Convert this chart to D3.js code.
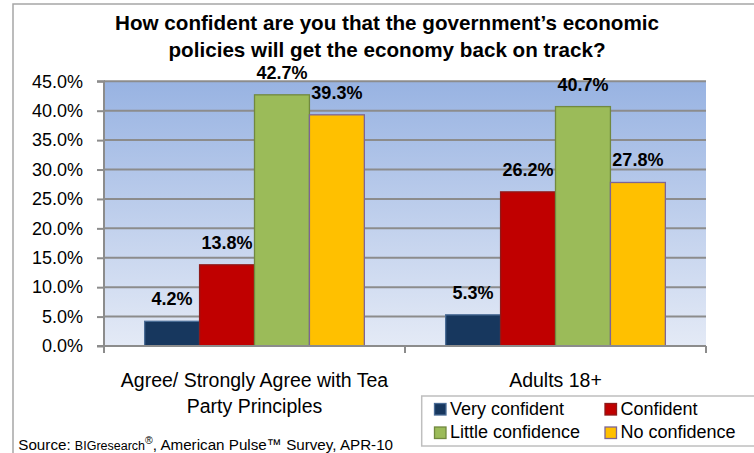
<!DOCTYPE html>
<html><head><meta charset="utf-8">
<script src="https://cdn.jsdelivr.net/npm/d3@7"></script>
<style>
html,body{margin:0;padding:0;background:#fff;}
svg{display:block;font-family:"Liberation Sans",Arial,sans-serif;}
</style></head>
<body><svg id="c" width="754" height="453"></svg>
<script>
const titleLines = ["How confident are you that the government\u2019s economic", "policies will get the economy back on track?"];
const categories = ["Agree/ Strongly Agree with Tea Party Principles", "Adults 18+"];
const seriesNames = ["Very confident", "Confident", "Little confidence", "No confidence"];
const veryConfident = [4.2, 5.3];
const confident = [13.8, 26.2];
const littleConfidence = [42.7, 40.7];
const noConfidence = [39.3, 27.8];
const yTicks = [0, 5, 10, 15, 20, 25, 30, 35, 40, 45];
const colors = ["#17375e", "#c00000", "#9bbb59", "#ffc000"];
const strokes = ["#4a6c96", "#8e1a1a", "#71893f", "#7d6596"];
const sourceParts = ["Source: ", "BIGresearch", "\u00ae", ", American Pulse\u2122 Survey, APR-10"];

const seriesValues = [veryConfident, confident, littleConfidence, noConfidence];

const svg = d3.select("#c");
const plot = {l: 104, r: 706, t: 81.3, b: 346};

// outer border
svg.append("rect").attr("x", 13).attr("y", 4).attr("width", 760).attr("height", 470)
  .attr("fill", "#fff").attr("stroke", "#a6a6a6").attr("stroke-width", 1.5);

// gradient
const defs = svg.append("defs");
const grad = defs.append("linearGradient").attr("id", "bg").attr("x1", 0).attr("y1", 0).attr("x2", 0).attr("y2", 1);
grad.append("stop").attr("offset", "0%").attr("stop-color", "#98b3e2");
grad.append("stop").attr("offset", "100%").attr("stop-color", "#e4eaf6");

const y = d3.scaleLinear().domain([0, 45]).range([plot.b, plot.t]);
const x0 = d3.scaleBand().domain(categories).range([plot.l, plot.r]).paddingInner(0).paddingOuter(0);
const x1 = d3.scaleBand().domain(seriesNames).range([0, x0.bandwidth()]).paddingInner(0).paddingOuter(0.74);

svg.append("rect").attr("x", plot.l).attr("y", plot.t).attr("width", plot.r - plot.l).attr("height", plot.b - plot.t)
  .attr("fill", "url(#bg)");

// gridlines
svg.append("g").selectAll("line").data(yTicks.filter(d => d > 0)).join("line")
  .attr("x1", plot.l).attr("x2", plot.r).attr("y1", d => y(d)).attr("y2", d => y(d))
  .attr("stroke", "#8c8c8c").attr("stroke-width", 2);

// y axis
const yAxis = svg.append("g").attr("transform", `translate(${plot.l},0)`)
  .call(d3.axisLeft(y).tickValues(yTicks).tickSize(7).tickPadding(14).tickFormat(d => d.toFixed(1) + "%"));
yAxis.select(".domain").attr("stroke", "#8c8c8c").attr("stroke-width", 2).attr("d", `M-7,${plot.t}H0V${plot.b}H-7`);
yAxis.selectAll(".tick line").attr("stroke", "#8c8c8c").attr("stroke-width", 2);
yAxis.selectAll(".tick text").attr("font-size", 18).attr("fill", "#000").attr("font-family", "Liberation Sans, Arial, sans-serif");

// bars
const groups = svg.append("g").selectAll("g").data(categories).join("g")
  .attr("transform", d => `translate(${x0(d)},0)`);
groups.each(function(cat, ci) {
  const g = d3.select(this);
  const data = seriesNames.map((s, si) => ({s, si, v: seriesValues[si][ci]}));
  g.selectAll("rect").data(data).join("rect")
    .attr("x", d => x1(d.s)).attr("width", x1.bandwidth())
    .attr("y", d => y(d.v)).attr("height", d => y(0) - y(d.v))
    .attr("fill", d => colors[d.si]).attr("stroke", d => strokes[d.si]).attr("stroke-width", 1.3);
  g.selectAll("text").data(data).join("text")
    .attr("x", d => x1(d.s) + x1.bandwidth() / 2).attr("y", d => y(d.v) - 16)
    .attr("text-anchor", "middle").attr("font-size", 18).attr("font-weight", "bold").attr("fill", "#000")
    .text(d => d.v.toFixed(1) + "%");
});

// x axis
const xa = svg.append("g");
xa.append("line").attr("x1", plot.l).attr("x2", plot.r).attr("y1", plot.b).attr("y2", plot.b)
  .attr("stroke", "#8c8c8c").attr("stroke-width", 2);
const xTickPos = [plot.l].concat(categories.map(c => x0(c) + x0.bandwidth()));
xa.selectAll("line.t").data(xTickPos).join("line").attr("class", "t")
  .attr("x1", d => d).attr("x2", d => d).attr("y1", plot.b).attr("y2", plot.b + 7)
  .attr("stroke", "#8c8c8c").attr("stroke-width", 2);

// category labels with wrapping
function wrapLines(text, maxW, size) {
  const tmp = svg.append("text").attr("font-size", size);
  const words = text.split(" ");
  const lines = [];
  let cur = "";
  words.forEach(w => {
    const test = cur ? cur + " " + w : w;
    tmp.text(test);
    if (tmp.node().getComputedTextLength() > maxW && cur) { lines.push(cur); cur = w; }
    else cur = test;
  });
  if (cur) lines.push(cur);
  tmp.remove();
  return lines;
}
categories.forEach(c => {
  const lines = wrapLines(c, 285, 19.5);
  const t = svg.append("text").attr("text-anchor", "middle").attr("font-size", 19.5).attr("fill", "#000");
  lines.forEach((ln, i) => {
    t.append("tspan").attr("x", x0(c) + x0.bandwidth() / 2).attr("y", 386.5 + i * 26.7).text(ln);
  });
});

// title
const tTitle = svg.append("g");
const t1 = tTitle.append("text").attr("x", 387).attr("y", 30).attr("text-anchor", "middle")
  .attr("font-size", 21).attr("font-weight", "bold").text(titleLines[0]);
const nat = t1.node().getComputedTextLength();
const ratio = 544 / nat;
t1.attr("textLength", 544).attr("lengthAdjust", "spacingAndGlyphs");
const t2 = tTitle.append("text").attr("x", 387).attr("y", 56.7).attr("text-anchor", "middle")
  .attr("font-size", 21).attr("font-weight", "bold").text(titleLines[1]);
const nat2 = t2.node().getComputedTextLength();
t2.attr("textLength", nat2 * ratio).attr("lengthAdjust", "spacingAndGlyphs");

// legend
svg.append("rect").attr("x", 421.7).attr("y", 396).attr("width", 335).attr("height", 50)
  .attr("fill", "#fff").attr("stroke", "#bfbfbf").attr("stroke-width", 1.5);
const legPos = [[434.5, 403.5], [605, 403.5], [434.5, 427], [605, 427]];
seriesNames.forEach((s, i) => {
  const [lx, ly] = legPos[i];
  svg.append("rect").attr("x", lx).attr("y", ly).attr("width", 11.5).attr("height", 11.5)
    .attr("fill", colors[i]).attr("stroke", strokes[i]).attr("stroke-width", 1.3);
  svg.append("text").attr("x", lx + 15.5).attr("y", ly + 11).attr("font-size", 18).attr("fill", "#000").text(s);
});

// source
const src = svg.append("text").attr("x", 18.3).attr("y", 450).attr("font-size", 15.2).attr("fill", "#000");
src.append("tspan").text(sourceParts[0]);
src.append("tspan").attr("font-size", 12.5).text(sourceParts[1]);
src.append("tspan").attr("font-size", 10.5).attr("dy", -6).text(sourceParts[2]);
src.append("tspan").attr("dy", 6).text(sourceParts[3]);
</script></body></html>
